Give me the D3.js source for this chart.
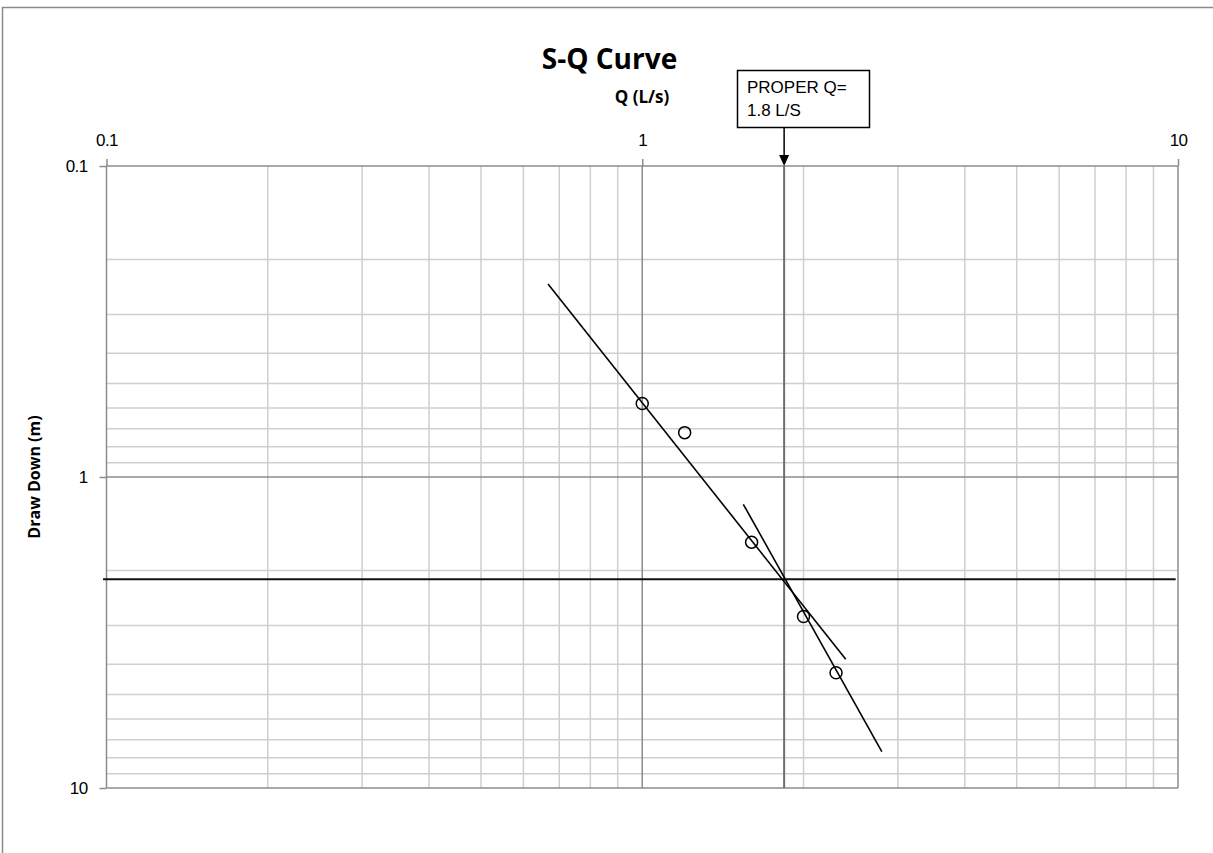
<!DOCTYPE html>
<html>
<head>
<meta charset="utf-8">
<script src="https://cdn.jsdelivr.net/npm/d3@7"></script>
<style>
    body { margin: 0; background: #fff; }
    svg { display: block; }
</style>
</head>
<body>
<svg id="chart" width="1213" height="853"></svg>
<script>
// Measured points: pumping rate Q (L/s) and draw down S (m).
const qValues = [1.0, 1.2, 1.6, 2.0, 2.3];
const drawDown = [0.58, 0.72, 1.62, 2.81, 4.26];

// Fitted lines, given by their two end points.
const fitLineQ = [0.667, 2.398];
const fitLineS = [0.2395, 3.857];
const steepLineQ = [1.544, 2.80];
const steepLineS = [1.224, 7.64];

// Proper yield marker.
const properQ = 1.84;
const properS = 2.13;
const properSpanQ = [0.0985, 9.9];
const properLabel = ["PROPER Q=", "1.8 L/S"];

// Axis ticks.
const tickValues = [0.1, 1, 10];
const decades = [0.1, 1];
const multipliers = [2, 3, 4, 5, 6, 7, 8, 9];

let svg = d3.select("#chart");

// Outer chart frame (runs off the bottom and right of the picture).
svg.append("rect")
    .attr("x", 2.5)
    .attr("y", 7.5)
    .attr("width", 1300)
    .attr("height", 1000)
    .attr("fill", "none")
    .attr("stroke", "#8a8a8a")
    .attr("stroke-width", 1.5);

let x = d3.scaleLog().domain([0.1, 10]).range([106.5, 1178]);
let y = d3.scaleLog().domain([0.1, 10]).range([166, 788]);

// Minor grid values (2..9 in each decade).
let minor = [];
decades.forEach(function(d) {
    multipliers.forEach(function(m) {
        minor.push(d * m);
    });
});

let grid = svg.append("g").attr("class", "grid");

grid.selectAll("line.vminor")
    .data(minor)
    .enter()
    .append("line")
    .attr("class", "vminor")
    .attr("x1", d => x(d)).attr("x2", d => x(d))
    .attr("y1", y(0.1)).attr("y2", y(10))
    .attr("stroke", "#cfcfcf")
    .attr("stroke-width", 1.5);

grid.selectAll("line.hminor")
    .data(minor)
    .enter()
    .append("line")
    .attr("class", "hminor")
    .attr("x1", x(0.1)).attr("x2", x(10))
    .attr("y1", d => y(d)).attr("y2", d => y(d))
    .attr("stroke", "#cfcfcf")
    .attr("stroke-width", 1.5);

grid.selectAll("line.vmajor")
    .data(tickValues)
    .enter()
    .append("line")
    .attr("class", "vmajor")
    .attr("x1", d => x(d)).attr("x2", d => x(d))
    .attr("y1", y(0.1)).attr("y2", y(10))
    .attr("stroke", "#8c8c8c")
    .attr("stroke-width", 1.5);

grid.selectAll("line.hmajor")
    .data(tickValues)
    .enter()
    .append("line")
    .attr("class", "hmajor")
    .attr("x1", x(0.1)).attr("x2", x(10))
    .attr("y1", d => y(d)).attr("y2", d => y(d))
    .attr("stroke", "#8c8c8c")
    .attr("stroke-width", 1.5);

// Axes: labels on top and left.
let fmt = d3.format("~g");

let xAxis = svg.append("g")
    .attr("transform", `translate(0,${y(0.1)})`)
    .call(d3.axisTop(x).tickValues(tickValues).tickSize(7).tickPadding(13).tickFormat(fmt));

let yAxis = svg.append("g")
    .attr("transform", `translate(${x(0.1)},0)`)
    .call(d3.axisLeft(y).tickValues(tickValues).tickSize(7).tickPadding(12).tickFormat(fmt));

[xAxis, yAxis].forEach(function(a) {
    a.attr("font-size", null);
    a.select(".domain").remove();
    a.selectAll(".tick line").attr("stroke", "#8c8c8c").attr("stroke-width", 1.5);
    a.selectAll(".tick text")
        .attr("fill", "#000")
        .style("font-family", "'Liberation Sans', Arial, sans-serif")
        .style("font-size", "17px")
        .style("letter-spacing", "-0.6px");
});

// Proper Q vertical line through the plot.
svg.append("line")
    .attr("x1", x(properQ)).attr("x2", x(properQ))
    .attr("y1", y(0.1)).attr("y2", y(10))
    .attr("stroke", "#6e6e6e")
    .attr("stroke-width", 2);

// Proper S horizontal line.
svg.append("line")
    .attr("x1", x(properSpanQ[0])).attr("x2", x(properSpanQ[1]))
    .attr("y1", y(properS)).attr("y2", y(properS))
    .attr("stroke", "#111")
    .attr("stroke-width", 2);

// Fitted lines.
let line = d3.line()
    .x(d => x(d[0]))
    .y(d => y(d[1]));

svg.append("path")
    .attr("d", line(d3.zip(fitLineQ, fitLineS)))
    .attr("fill", "none")
    .attr("stroke", "#000")
    .attr("stroke-width", 1.6);

svg.append("path")
    .attr("d", line(d3.zip(steepLineQ, steepLineS)))
    .attr("fill", "none")
    .attr("stroke", "#000")
    .attr("stroke-width", 1.6);

// Measured points.
svg.append("g")
    .selectAll("circle")
    .data(d3.zip(qValues, drawDown))
    .enter()
    .append("circle")
    .attr("cx", d => x(d[0]))
    .attr("cy", d => y(d[1]))
    .attr("r", 6)
    .attr("fill", "none")
    .attr("stroke", "#000")
    .attr("stroke-width", 1.5);

// Annotation box with arrow pointing at proper Q.
let px = x(properQ);
svg.append("rect")
    .attr("x", 737.5)
    .attr("y", 70.5)
    .attr("width", 132)
    .attr("height", 57)
    .attr("fill", "#fff")
    .attr("stroke", "#000")
    .attr("stroke-width", 1.5);

svg.append("text")
    .selectAll("tspan")
    .data(properLabel)
    .enter()
    .append("tspan")
    .attr("x", 747)
    .attr("y", (d, i) => 93 + i * 23)
    .text(d => d)
    .style("font-family", "'Liberation Sans', Arial, sans-serif")
    .style("font-size", "17px");

svg.append("line")
    .attr("x1", px).attr("x2", px)
    .attr("y1", 128).attr("y2", y(0.1) - 10)
    .attr("stroke", "#000")
    .attr("stroke-width", 1.5);

svg.append("path")
    .attr("d", `M${px - 5},${y(0.1) - 11} L${px + 5},${y(0.1) - 11} L${px},${y(0.1)} Z`)
    .attr("fill", "#000");

// Titles.
svg.append("text")
    .attr("x", 609.5)
    .attr("y", 69)
    .attr("text-anchor", "middle")
    .style("font-family", "'Open Sans', sans-serif")
    .style("font-weight", "bold")
    .style("font-size", "28px")
    .text("S-Q Curve");

svg.append("text")
    .attr("x", 642)
    .attr("y", 103)
    .attr("text-anchor", "middle")
    .style("font-family", "'Open Sans', sans-serif")
    .style("font-weight", "bold")
    .style("font-size", "17px")
    .text("Q (L/s)");

svg.append("text")
    .attr("transform", "translate(40,477) rotate(-90)")
    .attr("text-anchor", "middle")
    .style("font-family", "'Open Sans', sans-serif")
    .style("font-weight", "bold")
    .style("font-size", "16px")
    .text("Draw Down (m)");
</script>
</body>
</html>
